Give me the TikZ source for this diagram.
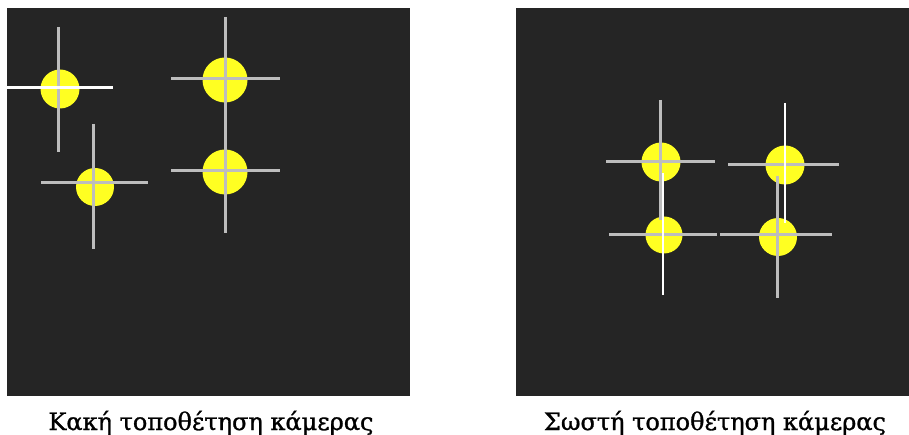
\documentclass[tikz,border=0pt]{standalone}
\usepackage{fontspec}
\newfontfamily\grfont[FakeBold=1.2]{DejaVu Serif}
\definecolor{panel}{HTML}{252525}
\definecolor{star}{HTML}{FFFF22}
\definecolor{hair}{HTML}{BDBDBD}
\begin{document}
\begin{tikzpicture}[x=1pt,y=-1pt,
  spot/.style={circle,fill=star,inner sep=0pt,minimum size=#1},
  grayline/.style={draw=hair,line width=3pt},
  whiteline/.style={draw=white,line width=3pt},
  thinwhite/.style={draw=white,line width=2.3pt},
  caption/.style={font=\grfont\fontsize{24}{28}\selectfont,anchor=base,inner sep=0pt}]
\useasboundingbox (0,0) rectangle (909,435);
\fill[panel] (7,8) rectangle (410,396);
\fill[panel] (516,8) rectangle (909,396);
% left panel
\node[spot=39pt] (l1) at (60,89) {};
\node[spot=38pt] (l2) at (95,187) {};
\node[spot=45pt] (l3) at (225,80) {};
\node[spot=45pt] (l4) at (225,172) {};
\coordinate (l1t) at (58,27); \coordinate (l1b) at (58,152);
\coordinate (l1l) at (7,88); \coordinate (l1r) at (113,88);
\draw[grayline] (l1t) -- (l1b);
\draw[whiteline] (l1l) -- (l1r);
\coordinate (l2t) at (93,124); \coordinate (l2b) at (93,249);
\coordinate (l2l) at (41,183); \coordinate (l2r) at (148,183);
\draw[grayline] (l2t) -- (l2b);
\draw[grayline] (l2l) -- (l2r);
\coordinate (l3t) at (225,17); \coordinate (l4b) at (225,233);
\draw[grayline] (l3t) -- (l4b);
\coordinate (l3l) at (171,79); \coordinate (l3r) at (280,79);
\coordinate (l4l) at (171,171); \coordinate (l4r) at (280,171);
\draw[grayline] (l3l) -- (l3r);
\draw[grayline] (l4l) -- (l4r);
% right panel
\node[spot=39pt] (ra) at (661,162) {};
\node[spot=37pt] (rb) at (664,235) {};
\node[spot=39pt] (rc) at (785,165) {};
\node[spot=38pt] (rd) at (778,237) {};
\coordinate (rat) at (660,100); \coordinate (rab) at (660,220);
\coordinate (ral) at (606,162); \coordinate (rar) at (715,162);
\draw[grayline] (rat) -- (rab);
\draw[grayline] (ral) -- (rar);
\coordinate (rbt) at (663,173); \coordinate (rbb) at (663,295);
\coordinate (rbl) at (609,235); \coordinate (rbr) at (717,235);
\draw[grayline] (rbl) -- (rbr);
\draw[thinwhite] (rbt) -- (rbb);
\coordinate (rct) at (785,103); \coordinate (rcb) at (785,223);
\coordinate (rcl) at (728,165); \coordinate (rcr) at (839,165);
\draw[grayline] (rcl) -- (rcr);
\draw[thinwhite] (rct) -- (rcb);
\coordinate (rdt) at (777,176); \coordinate (rdb) at (777,298);
\coordinate (rdl) at (720,235); \coordinate (rdr) at (832,235);
\draw[grayline] (rdt) -- (rdb);
\draw[grayline] (rdl) -- (rdr);
% captions
\node[caption] (capl) at (211,430) {Κακή τοποθέτηση κάμερας};
\node[caption] (capr) at (715,430) {Σωστή τοποθέτηση κάμερας};
\end{tikzpicture}
\end{document}
